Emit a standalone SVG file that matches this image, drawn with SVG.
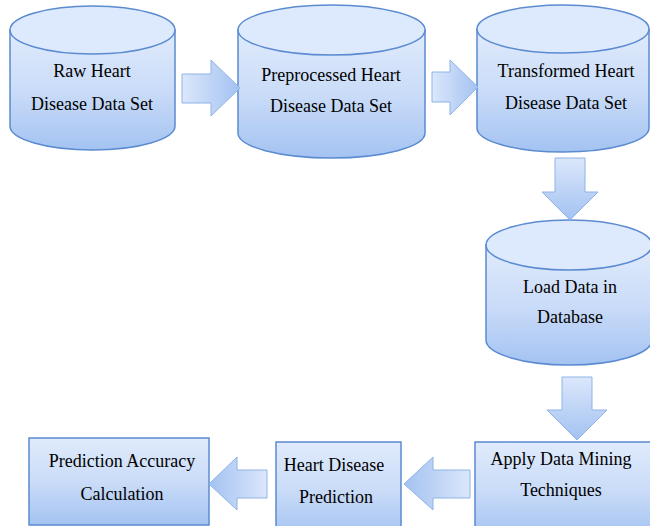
<svg xmlns="http://www.w3.org/2000/svg" width="650" height="526" viewBox="0 0 650 526">
<defs>
<linearGradient id="gBody" x1="0" y1="0" x2="0" y2="1">
<stop offset="0" stop-color="#e0ebfc"/>
<stop offset="0.5" stop-color="#cadcf8"/>
<stop offset="1" stop-color="#a4c3f2"/>
</linearGradient>
<linearGradient id="gR" x1="0" y1="0" x2="1" y2="0">
<stop offset="0" stop-color="#dbe7fb"/>
<stop offset="1" stop-color="#a3c2f1"/>
</linearGradient>
<linearGradient id="gL" x1="1" y1="0" x2="0" y2="0">
<stop offset="0" stop-color="#dbe7fb"/>
<stop offset="1" stop-color="#a3c2f1"/>
</linearGradient>
<linearGradient id="gD" x1="0" y1="0" x2="0" y2="1">
<stop offset="0" stop-color="#dbe7fb"/>
<stop offset="1" stop-color="#a3c2f1"/>
</linearGradient>
</defs>

<g stroke="#5b8bd0" stroke-width="1.5">
<g id="n1">
<path fill="url(#gBody)" d="M10,30 L10,126 A82.5,24 0 0 0 175,126 L175,30 Z"/>
<ellipse fill="#dde9fc" cx="92.5" cy="30" rx="82.5" ry="24"/>
<text x="92" y="77" stroke="none" font-size="18" text-anchor="middle" font-family="'Liberation Serif'">Raw Heart</text>
<text x="92" y="110" stroke="none" font-size="18" text-anchor="middle" font-family="'Liberation Serif'">Disease Data Set</text>
</g>

<g id="n2">
<path fill="url(#gBody)" d="M238,30 L238,133 A93.5,25 0 0 0 425,133 L425,30 Z"/>
<ellipse fill="#dde9fc" cx="331.5" cy="30" rx="93.5" ry="25"/>
<text x="331" y="81" stroke="none" font-size="18" text-anchor="middle" font-family="'Liberation Serif'">Preprocessed Heart</text>
<text x="331" y="112" stroke="none" font-size="18" text-anchor="middle" font-family="'Liberation Serif'">Disease Data Set</text>
</g>

<g id="n3">
<path fill="url(#gBody)" d="M477,29 L477,128 A86,24 0 0 0 649,128 L649,29 Z"/>
<ellipse fill="#dde9fc" cx="563" cy="29" rx="86" ry="24"/>
<text x="566" y="77" stroke="none" font-size="18" text-anchor="middle" font-family="'Liberation Serif'">Transformed Heart</text>
<text x="566" y="109" stroke="none" font-size="18" text-anchor="middle" font-family="'Liberation Serif'">Disease Data Set</text>
</g>

<g id="n4">
<path fill="url(#gBody)" d="M486,245 L486,340 A83,25 0 0 0 652,340 L652,245 Z"/>
<ellipse fill="#dde9fc" cx="569" cy="245" rx="83" ry="25"/>
<text x="570" y="293" stroke="none" font-size="18" text-anchor="middle" font-family="'Liberation Serif'">Load Data in</text>
<text x="570" y="323" stroke="none" font-size="18" text-anchor="middle" font-family="'Liberation Serif'">Database</text>
</g>

<g id="n5">
<rect fill="url(#gBody)" x="475" y="442" width="185" height="95"/>
<text x="561" y="465" stroke="none" font-size="18" text-anchor="middle" font-family="'Liberation Serif'">Apply Data Mining</text>
<text x="561" y="496" stroke="none" font-size="18" text-anchor="middle" font-family="'Liberation Serif'">Techniques</text>
</g>

<g id="n6">
<rect fill="url(#gBody)" x="276" y="442" width="125" height="95"/>
<text x="334" y="471" stroke="none" font-size="18" text-anchor="middle" font-family="'Liberation Serif'">Heart Disease</text>
<text x="336" y="503" stroke="none" font-size="18" text-anchor="middle" font-family="'Liberation Serif'">Prediction</text>
</g>

<g id="n7">
<rect fill="url(#gBody)" x="29" y="438" width="180" height="87"/>
<text x="122" y="467" stroke="none" font-size="18" text-anchor="middle" font-family="'Liberation Serif'">Prediction Accuracy</text>
<text x="122" y="500" stroke="none" font-size="18" text-anchor="middle" font-family="'Liberation Serif'">Calculation</text>
</g>
</g>

<g id="connectors" stroke="#8fb3e6" stroke-width="1">
<path fill="url(#gR)" d="M182,74 L211,74 L211,60 L240,88 L211,116 L211,103 L182,103 Z"/>
<path fill="url(#gR)" d="M432,72 L450,72 L450,60 L478,87 L450,115 L450,102 L432,102 Z"/>
<path fill="url(#gD)" d="M555,158 L585,158 L585,192 L598,192 L570,220 L542,192 L555,192 Z"/>
<path fill="url(#gD)" d="M562,377 L592,377 L592,410 L607,410 L577,440 L547,410 L562,410 Z"/>
<path fill="url(#gL)" d="M470,470 L433,470 L433,457 L404,484 L433,510 L433,498 L470,498 Z"/>
<path fill="url(#gL)" d="M267,470 L237,470 L237,457 L209,484 L237,510 L237,498 L267,498 Z"/>
</g>
</svg>
